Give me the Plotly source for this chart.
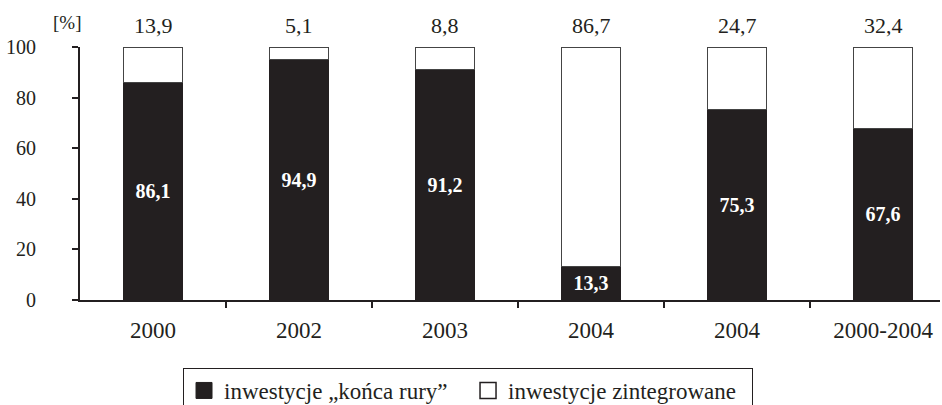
import plotly.graph_objects as go

categories = ["2000", "2002", "2003", "2004", "2004", "2000-2004"]
end_of_pipe = [86.1, 94.9, 91.2, 13.3, 75.3, 67.6]      # inwestycje „końca rury"
integrated = [13.9, 5.1, 8.8, 86.7, 24.7, 32.4]         # inwestycje zintegrowane
y_ticks = [0, 20, 40, 60, 80, 100]
series_names = ["inwestycje „końca rury”", "inwestycje zintegrowane"]

xs = list(range(len(categories)))
FONT = "Liberation Serif"
BLACK = "#231f20"

fig = go.Figure()
fig.add_trace(go.Bar(
    x=xs, y=end_of_pipe, width=0.40, showlegend=False,
    name=series_names[0],
    marker=dict(color=BLACK, line=dict(color=BLACK, width=1)),
    texttemplate="%{y:.1f}", textposition="inside", insidetextanchor="middle",
    textfont=dict(family=FONT, size=20, color="white", weight="bold"),
    textangle=0,
))
fig.add_trace(go.Bar(
    x=xs, y=integrated, width=0.40, showlegend=False,
    name=series_names[1],
    marker=dict(color="white", line=dict(color="#444444", width=1)),
))
# legend entries
fig.add_trace(go.Scatter(
    x=[None], y=[None], mode="markers", name=series_names[0],
    marker=dict(symbol="square", size=18, color=BLACK, line=dict(color=BLACK, width=1)),
))
fig.add_trace(go.Scatter(
    x=[None], y=[None], mode="markers", name=series_names[1],
    marker=dict(symbol="square", size=18, color="white", line=dict(color=BLACK, width=1.5)),
))

annotations = [dict(
    text="[%]", xref="paper", yref="paper", x=-0.0151, y=1.0988,
    xanchor="center", yanchor="middle",
    showarrow=False, font=dict(family=FONT, size=19, color=BLACK),
)]
for x, e, i in zip(xs, end_of_pipe, integrated):
    annotations.append(dict(
        x=x, y=e + i, xref="x", yref="y", text=f"{i:.1f}".replace(".", ","),
        showarrow=False, yanchor="bottom", yshift=7,
        font=dict(family=FONT, size=22, color=BLACK),
    ))

fig.update_layout(
    template="none",
    barmode="stack",
    separators=", ",
    width=942, height=405,
    margin=dict(l=80, r=2, t=47, b=105, autoexpand=False),
    plot_bgcolor="white", paper_bgcolor="white",
    font=dict(family=FONT, size=20, color=BLACK),
    showlegend=True,
    legend=dict(
        orientation="h", x=0.1198, y=-0.2688, xanchor="left", yanchor="top",
        bordercolor=BLACK, borderwidth=1, bgcolor="white",
        font=dict(family=FONT, size=23, color=BLACK),
        traceorder="normal", itemsizing="trace", entrywidth=239,
    ),
    xaxis=dict(
        range=[-0.5, 5.39], tickmode="array", tickvals=xs, ticktext=categories,
        showline=True, linecolor=BLACK, linewidth=2, ticks="", showgrid=False,
        zeroline=False, tickfont=dict(family=FONT, size=23, color=BLACK),
        ticklabelstandoff=8, automargin=False,
        minor=dict(tickmode="array", tickvals=[0.5, 1.5, 2.5, 3.5, 4.5],
                   ticks="outside", ticklen=6, tickwidth=1.5, tickcolor=BLACK),
    ),
    yaxis=dict(
        range=[0, 100], tickmode="array", tickvals=y_ticks,
        showline=True, linecolor=BLACK, linewidth=2, ticks="outside", ticklen=6,
        tickwidth=2, tickcolor=BLACK, showgrid=False, zeroline=False,
        tickfont=dict(family=FONT, size=20, color=BLACK),
        ticklabelstandoff=32, automargin=False,
    ),
    annotations=annotations,
)

fig.write_html(
    "out.html",
    config={"displayModeBar": False},
    post_script="document.body.style.margin='0';document.body.style.overflow='hidden';",
)
